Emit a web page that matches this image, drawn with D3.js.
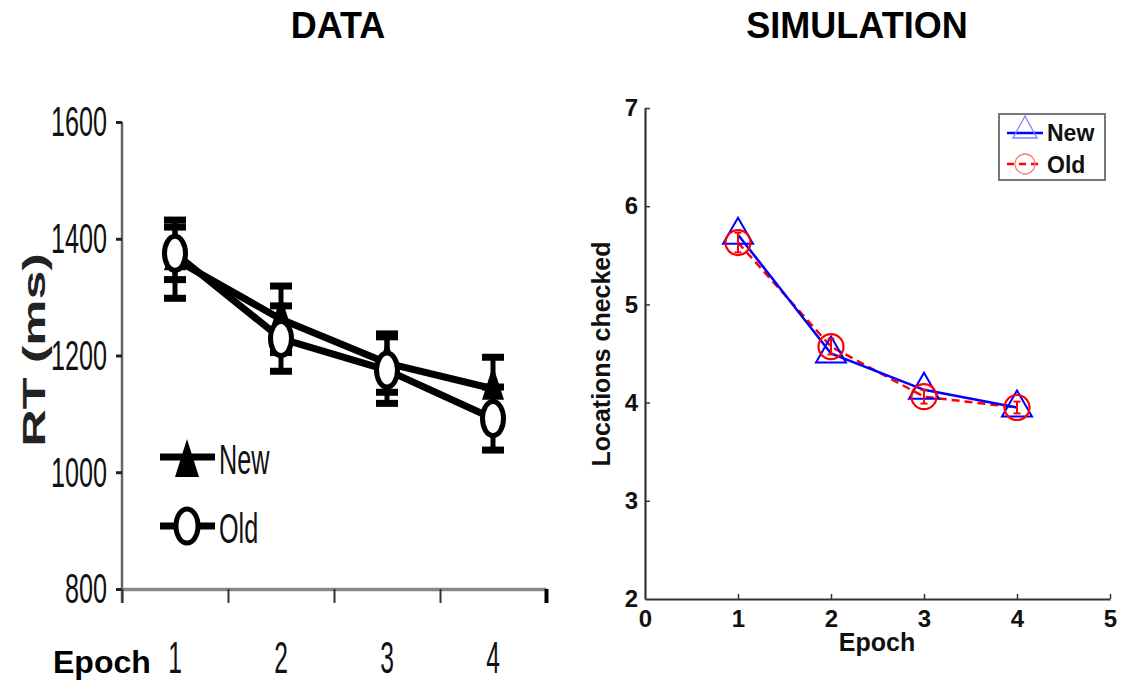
<!DOCTYPE html>
<html>
<head>
<meta charset="utf-8">
<script src="https://cdn.jsdelivr.net/npm/d3@7"></script>
<style>
  html, body { margin: 0; padding: 0; background: #fff; }
  svg { display: block; }
  text { font-family: "Liberation Sans", Arial, sans-serif; }
</style>
</head>
<body>
<svg id="chart" width="1122" height="685"></svg>
<script>
// ---------- DATA ----------
const epochs = [1, 2, 3, 4];
const rtTicks = [800, 1000, 1200, 1400, 1600];
const rtNew = [1365, 1262, 1187, 1143];
const rtNewErr = [67, 57, 50, 54];
const rtOld = [1375, 1229, 1175, 1092];
const rtOldErr = [45, 56, 57, 54];

const simXTicks = [0, 1, 2, 3, 4, 5];
const simYTicks = [2, 3, 4, 5, 6, 7];
const simNew = [5.71, 4.50, 4.13, 3.95];
const simOld = [5.63, 4.57, 4.06, 3.95];
const simOldErr = [0.10, 0.08, 0.07, 0.06];

const seriesNames = ["New", "Old"];
const titles = ["DATA", "SIMULATION"];

// ---------- SETUP ----------
const svg = d3.select("#chart");
const fmt = d3.format("d");

// Titles
svg.append("text").attr("x", 338).attr("y", 38).attr("text-anchor", "middle")
  .attr("font-weight", "bold").attr("font-size", 36).text(titles[0]);
svg.append("text").attr("x", 857).attr("y", 38).attr("text-anchor", "middle")
  .attr("font-weight", "bold").attr("font-size", 36).text(titles[1]);

// ================= LEFT: DATA =================
const L = svg.append("g");
const xBand = d3.scaleBand().domain(epochs).range([122, 546]);
const xEdge = d3.scaleLinear().domain([0.5, 4.5]).range([122, 546]);
const yL = d3.scaleLinear().domain([800, 1600]).range([589, 122]);
const cx = d => xBand(d) + xBand.bandwidth() / 2;

// y axis
const yAxisL = L.append("g").attr("transform", "translate(122,0)")
  .call(d3.axisLeft(yL).tickValues(rtTicks).tickSize(6).tickSizeOuter(0).tickFormat(fmt));
yAxisL.select(".domain").attr("stroke", "#666").attr("stroke-width", 2.5)
  .attr("d", "M0,122V603");
yAxisL.selectAll(".tick line").attr("stroke", "#222").attr("stroke-width", 3);
yAxisL.selectAll(".tick text")
  .attr("font-size", 42).attr("fill", "#111")
  .attr("x", -25).attr("dy", "0.33em")
  .attr("transform", "scale(0.6,1)");

// x axis (edge ticks)
const xAxisL = L.append("g").attr("transform", "translate(0,589)")
  .call(d3.axisBottom(xEdge).tickValues([0.5, 1.5, 2.5, 3.5, 4.5]).tickSize(14).tickSizeOuter(0).tickFormat(""));
xAxisL.select(".domain").attr("stroke", "#888").attr("stroke-width", 3.5);
xAxisL.selectAll(".tick line").attr("stroke", "#333").attr("stroke-width", 2);
xAxisL.selectAll(".tick").filter(d => d === 4.5).select("line").attr("stroke", "#000").attr("stroke-width", 4);

// x labels (band centers)
const xLabL = L.append("g").attr("transform", "translate(0,641)")
  .call(d3.axisBottom(xBand).tickSize(0).tickSizeOuter(0));
xLabL.select(".domain").remove();
xLabL.selectAll(".tick text").attr("font-size", 44).attr("fill", "#111")
  .attr("y", 0).attr("dy", "0.72em").attr("transform", "scale(0.56,1)");

// Epoch label
L.append("text").attr("x", 53).attr("y", 673).attr("font-weight", "bold")
  .attr("font-size", 32).text("Epoch");

// y label
L.append("text").attr("transform", "translate(45,350) rotate(-90) scale(1,0.6)")
  .attr("text-anchor", "middle").attr("font-weight", "bold").attr("font-size", 52)
  .attr("fill", "#222").text("RT (ms)");

// lines
const lineL = d3.line().x((d, i) => cx(epochs[i])).y(d => yL(d));
[rtNew, rtOld].forEach(s => {
  L.append("path").datum(s).attr("d", lineL).attr("fill", "none")
    .attr("stroke", "#000").attr("stroke-width", 7).attr("stroke-linejoin", "round");
});

// error bars
function errBarsL(vals, errs) {
  const g = L.append("g");
  vals.forEach((v, i) => {
    const x = cx(epochs[i]);
    g.append("line").attr("x1", x).attr("x2", x)
      .attr("y1", yL(v + errs[i])).attr("y2", yL(v - errs[i]))
      .attr("stroke", "#000").attr("stroke-width", 5);
    [v + errs[i], v - errs[i]].forEach(e => {
      g.append("rect").attr("x", x - 11).attr("y", yL(e) - 3.5)
        .attr("width", 22).attr("height", 7).attr("fill", "#000");
    });
  });
}
errBarsL(rtNew, rtNewErr);
errBarsL(rtOld, rtOldErr);

// markers
const triL = (x, y) => `M${x},${y - 23}L${x + 11},${y + 11}L${x - 11},${y + 11}Z`;
rtNew.forEach((v, i) => {
  L.append("path").attr("d", triL(cx(epochs[i]), yL(v))).attr("fill", "#000");
});
rtOld.forEach((v, i) => {
  L.append("ellipse").attr("cx", cx(epochs[i])).attr("cy", yL(v))
    .attr("rx", 10.5).attr("ry", 17).attr("fill", "#fff")
    .attr("stroke", "#000").attr("stroke-width", 5);
});

// legend (left)
const legL = L.append("g");
[457, 526].forEach((ly, k) => {
  legL.append("line").attr("x1", 160).attr("x2", 215).attr("y1", ly).attr("y2", ly)
    .attr("stroke", "#000").attr("stroke-width", 7);
  if (k === 0) {
    legL.append("path").attr("d", `M187,${ly - 18}L199,${ly + 20}L175,${ly + 20}Z`).attr("fill", "#000");
  } else {
    legL.append("ellipse").attr("cx", 187).attr("cy", ly).attr("rx", 11).attr("ry", 17)
      .attr("fill", "#fff").attr("stroke", "#000").attr("stroke-width", 5);
  }
  legL.append("text").attr("transform", `translate(219,${ly + 17}) scale(0.6,1)`)
    .attr("font-size", 42).attr("fill", "#111").text(seriesNames[k]);
});

// ================= RIGHT: SIMULATION =================
const R = svg.append("g");
const xR = d3.scaleLinear().domain([0, 5]).range([645, 1110]);
const yR = d3.scaleLinear().domain([2, 7]).range([599, 108]);

const xAxisR = R.append("g").attr("transform", "translate(0,599)")
  .call(d3.axisBottom(xR).tickValues(simXTicks).tickSizeInner(-5).tickSizeOuter(0).tickPadding(11).tickFormat(fmt));
const yAxisR = R.append("g").attr("transform", "translate(645,0)")
  .call(d3.axisLeft(yR).tickValues(simYTicks).tickSizeInner(-5).tickSizeOuter(0).tickPadding(7).tickFormat(fmt));
[xAxisR, yAxisR].forEach(a => {
  a.select(".domain").attr("stroke", "#333").attr("stroke-width", 2.2);
  a.selectAll(".tick line").attr("stroke", "#333").attr("stroke-width", 1.5);
  a.selectAll(".tick text").attr("font-size", 24).attr("font-weight", "bold").attr("fill", "#111");
});
xAxisR.selectAll(".tick").filter(d => d === 0).select("line").remove();
yAxisR.selectAll(".tick").filter(d => d === 2).select("line").remove();

R.append("text").attr("x", 877).attr("y", 651).attr("text-anchor", "middle")
  .attr("font-weight", "bold").attr("font-size", 25).attr("fill", "#111").text("Epoch");
R.append("text").attr("transform", "translate(610,354) rotate(-90)")
  .attr("text-anchor", "middle").attr("font-weight", "bold").attr("font-size", 25)
  .attr("fill", "#111").text("Locations checked");

const lineR = d3.line().x((d, i) => xR(epochs[i])).y(d => yR(d));

// Old (red dashed)
R.append("path").datum(simOld).attr("d", lineR).attr("fill", "none")
  .attr("stroke", "#ff0000").attr("stroke-width", 2.5).attr("stroke-dasharray", "8,5");
// New (blue)
R.append("path").datum(simNew).attr("d", lineR).attr("fill", "none")
  .attr("stroke", "#0000ff").attr("stroke-width", 2.5);

const triR = (x, y) => `M${x},${y - 17}L${x + 15},${y + 9}L${x - 15},${y + 9}Z`;
simNew.forEach((v, i) => {
  R.append("path").attr("d", triR(xR(epochs[i]), yR(v))).attr("fill", "none")
    .attr("stroke", "#0000ff").attr("stroke-width", 2);
});
simOld.forEach((v, i) => {
  const x = xR(epochs[i]);
  R.append("circle").attr("cx", x).attr("cy", yR(v)).attr("r", 12.5)
    .attr("fill", "none").attr("stroke", "#ff0000").attr("stroke-width", 2.2);
  const e = simOldErr[i];
  R.append("line").attr("x1", x).attr("x2", x).attr("y1", yR(v + e)).attr("y2", yR(v - e))
    .attr("stroke", "#ff0000").attr("stroke-width", 2);
  [v + e, v - e].forEach(t => {
    R.append("line").attr("x1", x - 3.5).attr("x2", x + 3.5).attr("y1", yR(t)).attr("y2", yR(t))
      .attr("stroke", "#ff0000").attr("stroke-width", 2);
  });
});

// legend (right)
const legR = R.append("g");
legR.append("rect").attr("x", 999).attr("y", 114).attr("width", 106).attr("height", 66)
  .attr("fill", "#fff").attr("stroke", "#777").attr("stroke-width", 2);
legR.append("line").attr("x1", 1007).attr("x2", 1043).attr("y1", 133).attr("y2", 133)
  .attr("stroke", "#0000ff").attr("stroke-width", 2.5);
legR.append("path").attr("d", "M1025,116L1037,138L1013,138Z").attr("fill", "none")
  .attr("stroke", "#8080ff").attr("stroke-width", 1.3);
legR.append("line").attr("x1", 1007).attr("x2", 1043).attr("y1", 164).attr("y2", 164)
  .attr("stroke", "#ff0000").attr("stroke-width", 2.5).attr("stroke-dasharray", "7,5");
legR.append("circle").attr("cx", 1025).attr("cy", 164).attr("r", 10).attr("fill", "none")
  .attr("stroke", "#ff8080").attr("stroke-width", 1.3);
legR.append("text").attr("x", 1047).attr("y", 141).attr("font-weight", "bold")
  .attr("font-size", 23).attr("fill", "#111").text(seriesNames[0]);
legR.append("text").attr("x", 1047).attr("y", 173).attr("font-weight", "bold")
  .attr("font-size", 23).attr("fill", "#111").text(seriesNames[1]);
</script>
</body>
</html>
